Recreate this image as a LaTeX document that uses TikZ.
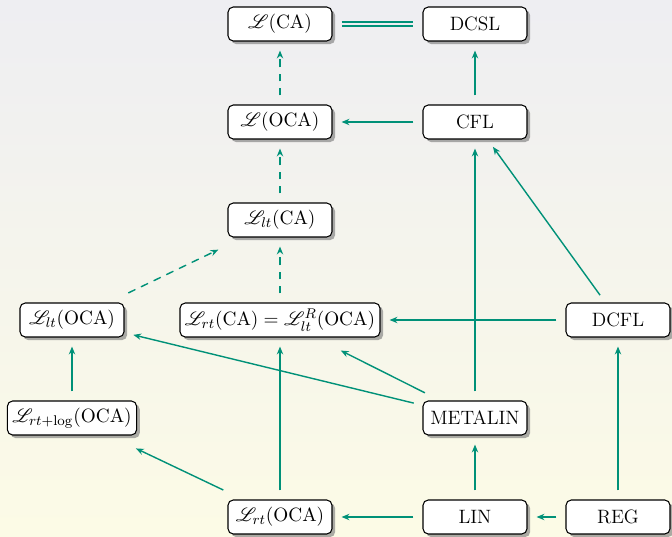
\documentclass[tikz,border=0pt]{standalone}
\usepackage{amsmath,amssymb}
\usepackage{mathrsfs}
\usepackage{tikz}
\usetikzlibrary{arrows.meta,positioning,shadows}
\usepackage{xcolor}
\definecolor{linkteal}{RGB}{0,145,120}
\definecolor{bgtop}{RGB}{238,238,242}
\definecolor{bgbot}{RGB}{252,251,230}

\begin{document}
\begin{tikzpicture}[
  lang/.style={draw, semithick, fill=white, rounded corners=3pt, minimum width=2.08cm,
    minimum height=0.68cm, inner sep=2.8pt, font=\fontsize{11}{13}\selectfont,
    drop shadow={shadow xshift=1.8pt, shadow yshift=-1.8pt, opacity=0.65}},
  link/.style={draw=linkteal, thick, -{Stealth[length=4.5pt,width=3.6pt]},
    shorten <=0.18cm, shorten >=0.18cm},
  weak/.style={link, dash pattern=on 4.5pt off 3.5pt}]
\shade[top color=bgtop, bottom color=bgbot] (0,0.48) rectangle (13.44,-10.26);
\useasboundingbox (0,0.48) rectangle (13.44,-10.26);
% languages
\node[lang] (lca) at (5.6,0) {$\mathscr{L}(\mathrm{CA})$};
\node[lang] (dcsl) at (9.5,0) {DCSL};
\node[lang] (loca) at (5.6,-1.96) {$\mathscr{L}(\mathrm{OCA})$};
\node[lang] (cfl) at (9.5,-1.96) {CFL};
\node[lang] (lltca) at (5.6,-3.92) {$\mathscr{L}_{lt}(\mathrm{CA})$};
\node[lang] (lltoca) at (1.44,-5.92) {$\mathscr{L}_{lt}(\mathrm{OCA})$};
\node[lang] (lrtca) at (5.6,-5.92) {$\mathscr{L}_{rt}(\mathrm{CA})=\mathscr{L}^{R}_{lt}(\mathrm{OCA})$};
\node[lang] (dcfl) at (12.36,-5.92) {DCFL};
\node[lang] (lrtlog) at (1.44,-7.88) {$\mathscr{L}_{rt+\log}(\mathrm{OCA})$};
\node[lang] (metalin) at (9.5,-7.88) {METALIN};
\node[lang] (lrtoca) at (5.6,-9.86) {$\mathscr{L}_{rt}(\mathrm{OCA})$};
\node[lang] (lin) at (9.5,-9.86) {LIN};
\node[lang] (reg) at (12.36,-9.86) {REG};
% inclusions
\draw[link, -, double=bgtop, double distance=1.6pt] (lca) -- (dcsl);
\draw[weak] (loca) -- (lca);
\draw[link] (cfl) -- (dcsl);
\draw[link] (cfl) -- (loca);
\draw[weak] (lltca) -- (loca);
\draw[weak] (lrtca) -- (lltca);
\draw[weak, shorten <=0.44cm, shorten >=0.56cm] (lltoca) -- (lltca);
\draw[link] (dcfl) -- (lrtca);
\draw[link] (dcfl) -- (cfl);
\draw[link] (metalin) -- (cfl);
\draw[link] (metalin) -- (lltoca);
\draw[link, shorten <=0.34cm, shorten >=0.58cm] (metalin) -- (lrtca);
\draw[link] (lrtlog) -- (lltoca);
\draw[link, shorten <=0.44cm, shorten >=0.6cm] (lrtoca) -- (lrtlog);
\draw[link] (lrtoca) -- (lrtca);
\draw[link] (lin) -- (lrtoca);
\draw[link] (lin) -- (metalin);
\draw[link] (reg) -- (lin);
\draw[link] (reg) -- (dcfl);
\end{tikzpicture}
\end{document}
